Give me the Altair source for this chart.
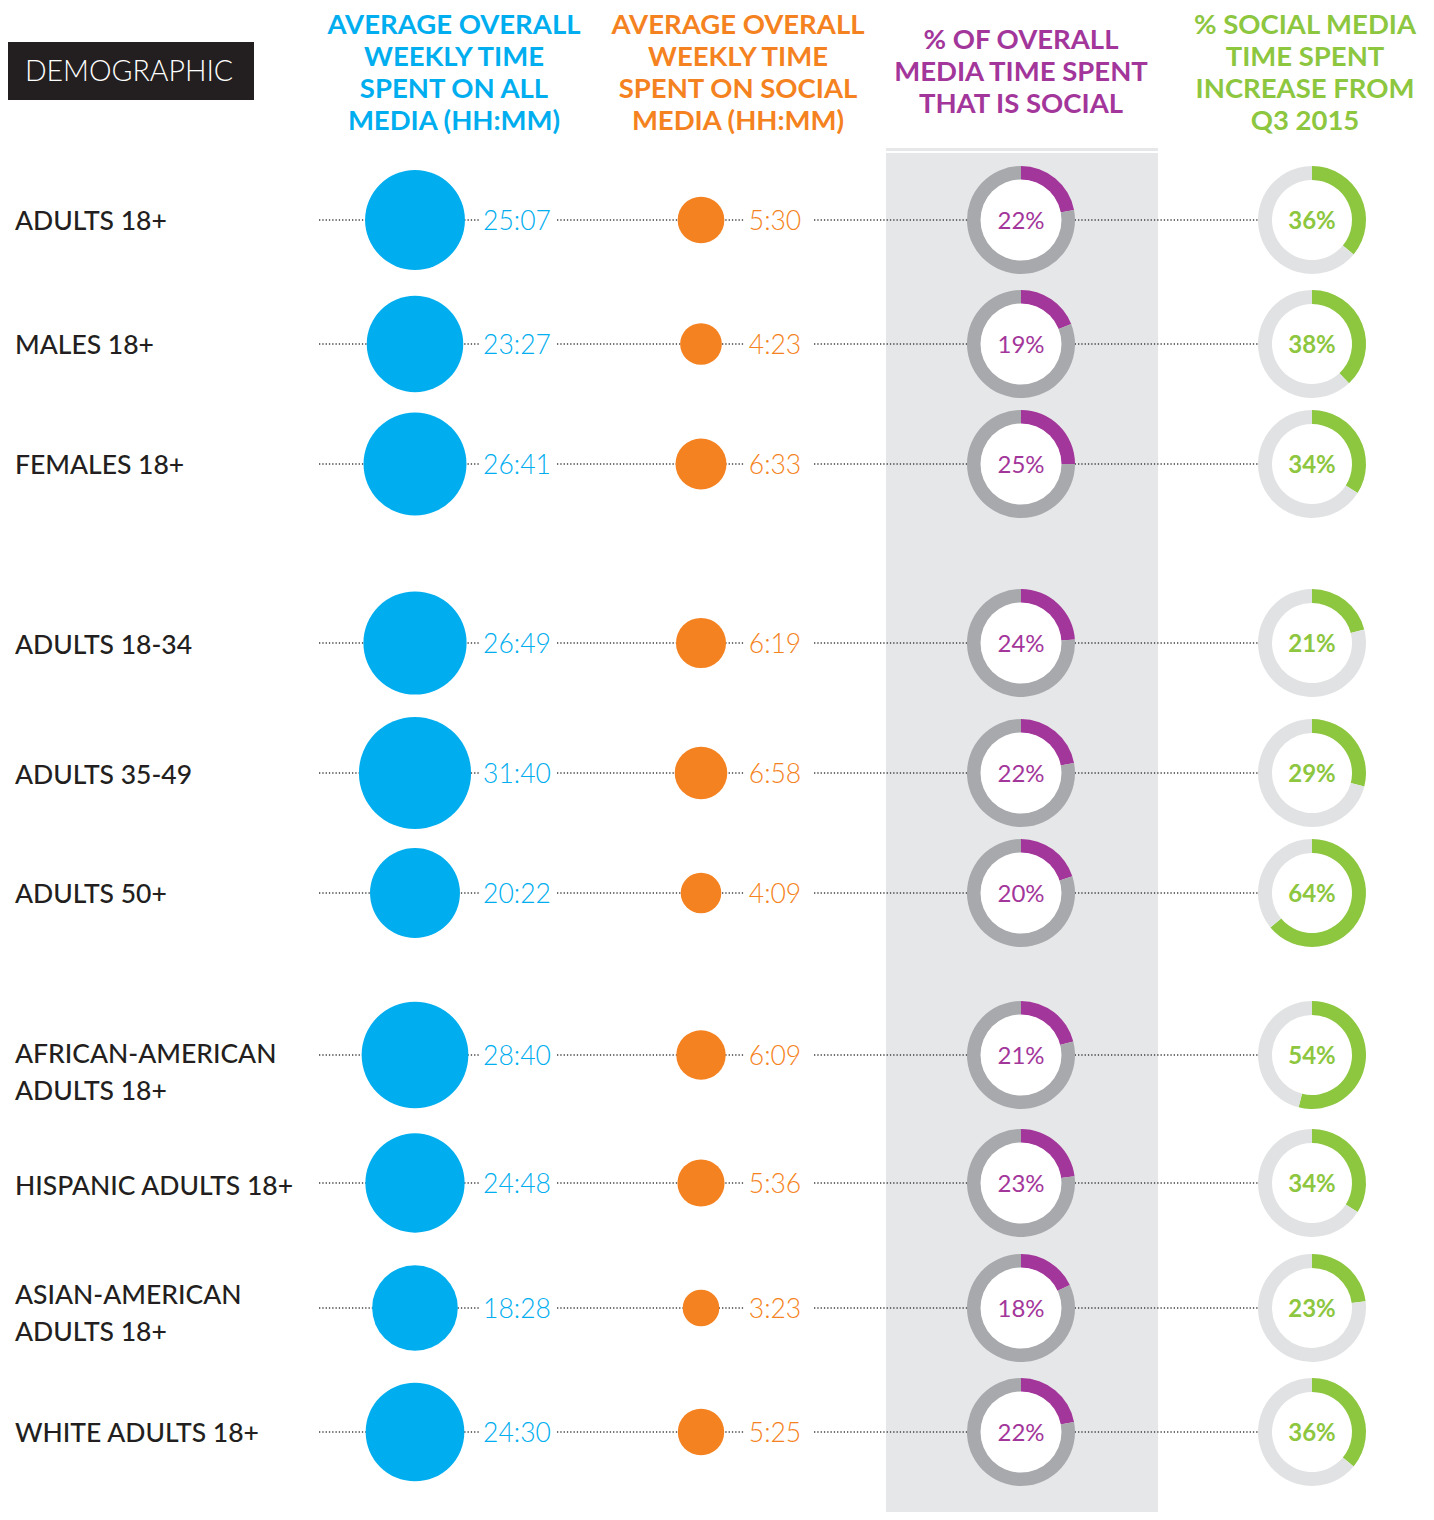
import math
import altair as alt
import pandas as pd

# ---------------- data ----------------
demographics = [
    "ADULTS 18+", "MALES 18+", "FEMALES 18+",
    "ADULTS 18-34", "ADULTS 35-49", "ADULTS 50+",
    "AFRICAN-AMERICAN\nADULTS 18+", "HISPANIC ADULTS 18+",
    "ASIAN-AMERICAN\nADULTS 18+", "WHITE ADULTS 18+",
]
all_media_time = ["25:07", "23:27", "26:41", "26:49", "31:40", "20:22", "28:40", "24:48", "18:28", "24:30"]
social_media_time = ["5:30", "4:23", "6:33", "6:19", "6:58", "4:09", "6:09", "5:36", "3:23", "5:25"]
pct_social = [22, 19, 25, 24, 22, 20, 21, 23, 18, 22]
pct_increase = [36, 38, 34, 21, 29, 64, 54, 34, 23, 36]

header_all = "AVERAGE OVERALL\nWEEKLY TIME\nSPENT ON ALL\nMEDIA (HH:MM)"
header_social = "AVERAGE OVERALL\nWEEKLY TIME\nSPENT ON SOCIAL\nMEDIA (HH:MM)"
header_share = "% OF OVERALL\nMEDIA TIME SPENT\nTHAT IS SOCIAL"
header_incr = "% SOCIAL MEDIA\nTIME SPENT\nINCREASE FROM\nQ3 2015"
box_title = "DEMOGRAPHIC"

# ---------------- layout ----------------
W, H = 1418, 1504
ROW_Y = [220, 344, 464, 643, 773, 893, 1055, 1183, 1308, 1432]
LABEL_Y = [220, 344, 464, 644, 774, 893, 1053, 1185, 1294, 1432]
X_LABEL, X_BLUE, X_BLUE_T, X_ORANGE, X_ORANGE_T, X_D1, X_D2 = 15, 415, 517, 701, 775, 1021, 1312
FONT = "Lato"
BLUE, ORANGE, PURPLE, GREEN = "#00AEEF", "#F58220", "#A3369A", "#8DC63F"
GREY_DARK, GREY_LIGHT, BAND = "#A7A9AC", "#E1E2E3", "#E6E7E8"
INK = "#231F20"

xs = alt.Scale(domain=[8, 8 + W], nice=False, zero=False)
ys = alt.Scale(domain=[8, 8 + H], nice=False, zero=False, reverse=True)


def X(f):
    return alt.X(f, type="quantitative", scale=xs, axis=None)


def Y(f):
    return alt.Y(f, type="quantitative", scale=ys, axis=None)


def to_min(s):
    h, m = s.split(":")
    return int(h) * 60 + int(m)


rows = pd.DataFrame({
    "label": demographics,
    "all_t": all_media_time,
    "soc_t": social_media_time,
    "all_m": [to_min(s) for s in all_media_time],
    "soc_m": [to_min(s) for s in social_media_time],
    "share": pct_social,
    "incr": pct_increase,
    "y": ROW_Y,
    "ly": LABEL_Y,
})
rows["share_t"] = [f"{v}%" for v in pct_social]
rows["incr_t"] = [f"{v}%" for v in pct_increase]
rows["xb"], rows["xbt"], rows["xo"], rows["xot"] = X_BLUE, X_BLUE_T, X_ORANGE, X_ORANGE_T
rows["xd1"], rows["xd2"], rows["xl"] = X_D1, X_D2, X_LABEL

# symbol size = bounding-box area, proportional to minutes
size_scale = alt.Scale(domain=[0, 2000], range=[0, 2000 * 6.62], nice=False)

# background band
band = pd.DataFrame({"x": [886], "x2": [1158], "y": [148], "y2": [8 + H]})
band_layer = alt.Chart(band).mark_rect(color=BAND).encode(x=X("x"), x2="x2", y=Y("y"), y2="y2")
band_line = alt.Chart(pd.DataFrame({"x": [886], "x2": [1158], "y": [152]})).mark_rule(
    color="white", strokeWidth=2).encode(x=X("x"), x2="x2", y=Y("y"))

# dotted leader lines
segs = []
for y in ROW_Y:
    for a, b in [(319, 480), (557, 744), (814, 1262)]:
        segs.append({"x": a, "x2": b, "y": y})
dots = alt.Chart(pd.DataFrame(segs)).mark_rule(
    color="#414042", strokeWidth=1.3, strokeDash=[1.3, 2]).encode(x=X("x"), x2="x2", y=Y("y"))

base = alt.Chart(rows)

blue = base.mark_circle(opacity=1, color=BLUE).encode(
    x=X("xb"), y=Y("y"), size=alt.Size("all_m:Q", scale=size_scale, legend=None))
orange = base.mark_circle(opacity=1, color=ORANGE).encode(
    x=X("xo"), y=Y("y"), size=alt.Size("soc_m:Q", scale=size_scale, legend=None))

blue_t = base.mark_text(font=FONT, fontSize=26.5, fontWeight=300, color=BLUE, align="center",
                        baseline="middle", dy=2).encode(x=X("xbt"), y=Y("y"), text="all_t:N")
orange_t = base.mark_text(font=FONT, fontSize=26.5, fontWeight=300, color=ORANGE, align="center",
                          baseline="middle", dy=2).encode(x=X("xot"), y=Y("y"), text="soc_t:N")

# donuts
arcs = []
for i, r in rows.iterrows():
    arcs.append({"cx": X_D1, "cy": r.y, "t0": 0, "t1": r.share, "c": PURPLE})
    arcs.append({"cx": X_D1, "cy": r.y, "t0": r.share, "t1": 100, "c": GREY_DARK})
    arcs.append({"cx": X_D2, "cy": r.y, "t0": 0, "t1": r.incr, "c": GREEN})
    arcs.append({"cx": X_D2, "cy": r.y, "t0": r.incr, "t1": 100, "c": GREY_LIGHT})
arc_layer = alt.Chart(pd.DataFrame(arcs)).mark_arc(innerRadius=40, outerRadius=54).encode(
    x=X("cx"), y=Y("cy"),
    theta=alt.Theta("t0:Q", scale=alt.Scale(domain=[0, 100], range=[0, 2 * math.pi]), stack=None),
    theta2="t1:Q",
    color=alt.Color("c:N", scale=None),
)
holes = base.mark_circle(opacity=1, color="white", size=81 * 81).encode(x=X("xd1"), y=Y("y"))

share_t = base.mark_text(font=FONT, fontSize=24, color=PURPLE, align="center", baseline="middle",
                         dy=2).encode(x=X("xd1"), y=Y("y"), text="share_t:N")
incr_t = base.mark_text(font=FONT, fontSize=24, fontWeight="bold", color=GREEN, align="center",
                        baseline="middle", dy=2).encode(x=X("xd2"), y=Y("y"), text="incr_t:N")

labels = base.mark_text(font=FONT, fontSize=26.5, fontWeight=500, color=INK, align="left",
                        baseline="middle", lineBreak="\n", lineHeight=37, dy=2).encode(
    x=X("xl"), y=Y("ly"), text="label:N")

# headers (y = first line)
hdr = pd.DataFrame({
    "t": [header_all, header_social, header_share, header_incr],
    "x": [454, 738, 1021, 1305],
    "y": [26, 26, 41, 26],
    "c": [BLUE, ORANGE, PURPLE, GREEN],
})
headers = alt.Chart(hdr).mark_text(font=FONT, fontSize=27.5, fontWeight="bold", align="center",
                                   baseline="middle", lineBreak="\n", lineHeight=32).encode(
    x=X("x"), y=Y("y"), text="t:N", color=alt.Color("c:N", scale=None))

box = alt.Chart(pd.DataFrame({"x": [8], "x2": [254], "y": [42], "y2": [100]})).mark_rect(color=INK).encode(
    x=X("x"), x2="x2", y=Y("y"), y2="y2")
box_t = alt.Chart(pd.DataFrame({"t": [box_title], "x": [129], "y": [71]})).mark_text(
    font=FONT, fontSize=28.5, fontWeight=300, color="white", align="center", baseline="middle",
    dy=1).encode(x=X("x"), y=Y("y"), text="t:N")

chart = alt.layer(
    band_layer, band_line, dots, blue, orange, blue_t, orange_t,
    arc_layer, holes, share_t, incr_t, labels, headers, box, box_t,
).properties(width=W, height=H, padding=0, background="white",
             autosize=alt.AutoSizeParams(type="none")).configure_view(stroke=None)

chart.save("out.html", embed_options={"renderer": "svg", "actions": False})
